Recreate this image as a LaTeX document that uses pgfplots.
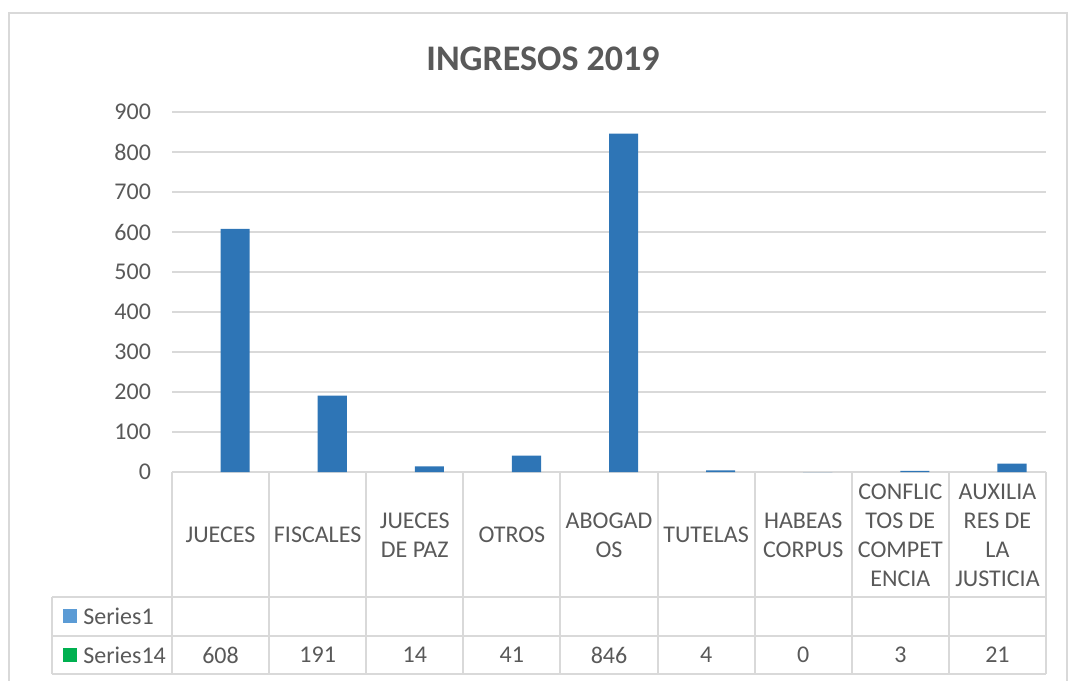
\documentclass[border=0pt]{standalone}
\usepackage{fontspec}
\setmainfont{Carlito}
\usepackage{pgfplots}
\pgfplotsset{compat=1.18}
\definecolor{txt}{HTML}{595959}
\definecolor{grd}{HTML}{D9D9D9}
\definecolor{barc}{HTML}{2E75B6}
\definecolor{sone}{HTML}{5B9BD5}
\definecolor{sfourteen}{HTML}{00B050}
\newcommand\lbl{\fontsize{12}{14.5}\selectfont}
\begin{document}
\begin{tikzpicture}
% frame and table, in pixel units of the reference (y downwards)
\begin{scope}[x=0.5pt,y=-0.5pt]
\useasboundingbox (0,0) rectangle (1080,680);
\draw[grd, line width=0.8pt] (9,700) -- (9,13) -- (1067,13) -- (1067,700);
\node[anchor=base, text=txt, font=\fontsize{18}{20}\selectfont\bfseries] at (543,70) {INGRESOS 2019};
% table grid
\foreach \i in {0,...,9}
  \draw[grd, line width=1pt] (172+97.11*\i,472) -- (172+97.11*\i,674);
\draw[grd, line width=1pt] (52,597) -- (52,674);
\foreach \yy in {597,636,674}
  \draw[grd, line width=1pt] (52,\yy) -- (1046,\yy);
% series keys
\fill[sone] (63,609) rectangle (77,623);
\node[anchor=west, text=txt, font=\lbl, inner sep=0pt] at (83,616) {Series1};
\fill[sfourteen] (63,648) rectangle (77,662);
\node[anchor=west, text=txt, font=\lbl, inner sep=0pt] at (83,655) {Series14};
% data table values
\foreach \v [count=\i from 0] in {608,191,14,41,846,4,0,3,21}
  \node[text=txt, font=\lbl] at (220.55+97.11*\i,655) {\v};
\end{scope}
\begin{axis}[
    at={(86pt,-236pt)}, anchor=south west,
    scale only axis,
    width=437pt, height=180pt,
    xmin=-0.5, xmax=8.5,
    ymin=0, ymax=900,
    ytick={0,100,...,900},
    xtick={0,...,8},
    xticklabels={JUECES, FISCALES, {JUECES\\DE PAZ}, OTROS, {ABOGAD\\OS}, TUTELAS, {HABEAS\\CORPUS}, {CONFLIC\\TOS DE\\COMPET\\ENCIA}, {AUXILIA\\RES DE\\LA\\JUSTICIA}},
    xticklabel style={align=center, anchor=center, yshift=-31.5pt, text=txt, font=\lbl},
    yticklabel style={text=txt, font=\lbl, xshift=-7pt},
    /pgf/number format/assume math mode=true,
    axis line style={draw=none},
    major tick length=0pt,
    ymajorgrids,
    grid style={grd, line width=0.8pt},
    clip=false,
]
\addplot[ybar, fill=barc, draw=none, bar width=0.3, bar shift=0.15] coordinates {
    (0,608) (1,191) (2,14) (3,41) (4,846) (5,4) (6,0) (7,3) (8,21)
};
\end{axis}
\end{tikzpicture}
\end{document}
